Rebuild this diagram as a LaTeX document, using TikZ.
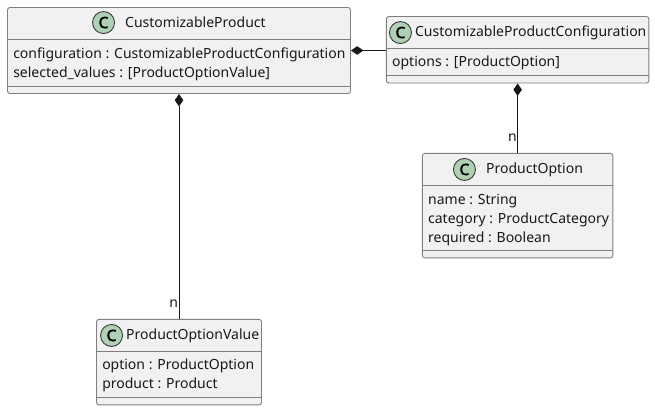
\documentclass[tikz,border=0pt]{standalone}
\usepackage{fontspec}
\setmainfont{Noto Sans}
\newfontfamily\markfont[FakeBold=2.5]{Noto Sans}
\usetikzlibrary{arrows.meta, positioning}

\begin{document}
\begin{tikzpicture}[
    node distance=30pt,
    every node/.style={font=\fontsize{14}{19}\selectfont},
    classbox/.style={rectangle, rounded corners=2.5pt, draw=boxgray, fill=boxfill, line width=0.9pt, inner sep=0pt},
    classmark/.style={circle, draw=markline, fill=markfill, line width=0.9pt, minimum size=22pt, inner sep=0pt, font=\fontsize{15.5}{16}\markfont},
    classtitle/.style={inner sep=0pt, text=textblack, anchor=west},
    fieldtext/.style={inner sep=0pt, text=textblack, align=left, anchor=north west},
    sepline/.style={draw=boxgray, line width=0.9pt},
    arrow/.style={line width=1pt, draw=textblack, {Diamond[length=12.5pt, width=8.5pt, fill=textblack]}-},
    multlabel/.style={inner sep=0pt, text=textblack, anchor=east}
]
\definecolor{boxgray}{HTML}{7F7F7F}
\definecolor{boxfill}{HTML}{F1F1F1}
\definecolor{markfill}{HTML}{ADD1B2}
\definecolor{markline}{HTML}{3A3A3A}
\definecolor{textblack}{HTML}{181818}
\useasboundingbox (0pt,0pt) rectangle (655pt,-410pt);

% Classes
\node (product) [classbox, minimum width=343pt, minimum height=86pt] at (179pt,-50.5pt) {};
\node (config) [classbox, minimum width=262.5pt, minimum height=66.5pt, right=35pt of product, yshift=0.75pt] {};
\node (option) [classbox, minimum width=190.5pt, minimum height=104.5pt, below=69.5pt of config] {};
\node (value) [classbox, minimum width=165pt, minimum height=85.5pt, below=225pt of product] {};

% Headers
\node (product_mark) [classmark] at ([xshift=96.5pt, yshift=-15.5pt]product.north west) {C};
\node (product_title) [classtitle, right=10pt of product_mark] {CustomizableProduct};
\node (config_mark) [classmark] at ([xshift=14.5pt, yshift=-16.5pt]config.north west) {C};
\node (config_title) [classtitle, right=3pt of config_mark, yshift=-0.5pt] {CustomizableProductConfiguration};
\node (option_mark) [classmark] at ([xshift=42.5pt, yshift=-16.5pt]option.north west) {C};
\node (option_title) [classtitle, right=10pt of option_mark] {ProductOption};
\node (value_mark) [classmark] at ([xshift=15.5pt, yshift=-16.5pt]value.north west) {C};
\node (value_title) [classtitle, right=3pt of value_mark] {ProductOptionValue};

% Fields
\node (product_fields) [fieldtext] at ([xshift=6pt, yshift=-40.5pt]product.north west) {configuration : CustomizableProductConfiguration\\selected\_values : [ProductOptionValue]};
\node (config_fields) [fieldtext] at ([xshift=6pt, yshift=-39.5pt]config.north west) {options : [ProductOption]};
\node (option_fields) [fieldtext] at ([xshift=6pt, yshift=-41.5pt]option.north west) {name : String\\category : ProductCategory\\required : Boolean};
\node (value_fields) [fieldtext] at ([xshift=6pt, yshift=-39.5pt]value.north west) {option : ProductOption\\product : Product};

% Separators
\draw [sepline] ([yshift=-32pt]product.north west) -- ([yshift=-32pt]product.north east);
\draw [sepline] ([yshift=8pt]product.south west) -- ([yshift=8pt]product.south east);
\draw [sepline] ([yshift=-32pt]config.north west) -- ([yshift=-32pt]config.north east);
\draw [sepline] ([yshift=8pt]config.south west) -- ([yshift=8pt]config.south east);
\draw [sepline] ([yshift=-32pt]option.north west) -- ([yshift=-32pt]option.north east);
\draw [sepline] ([yshift=8pt]option.south west) -- ([yshift=8pt]option.south east);
\draw [sepline] ([yshift=-32pt]value.north west) -- ([yshift=-32pt]value.north east);
\draw [sepline] ([yshift=8pt]value.south west) -- ([yshift=8pt]value.south east);

% Arrows
\draw [arrow] (product.east) -- (product.east -| config.west);
\draw [arrow] (product.south) -- (value.north) node[pos=0.93, multlabel, xshift=-0.5pt] {n};
\draw [arrow] (config.south) -- (option.north) node[pos=0.78, multlabel, xshift=-0.5pt] {n};

\end{tikzpicture}
\end{document}
